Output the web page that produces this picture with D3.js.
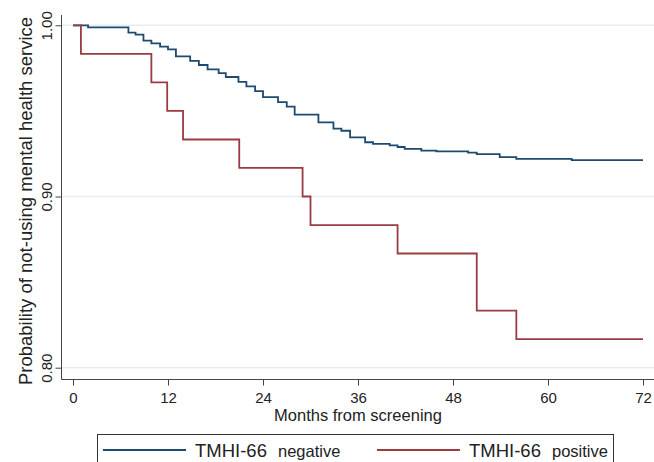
<!DOCTYPE html>
<html>
<head>
<meta charset="utf-8">
<script src="https://cdn.jsdelivr.net/npm/d3@7"></script>
<style>
  body { margin: 0; background: #fff; }
  svg { display: block; font-family: "Liberation Sans", Arial, sans-serif; }
</style>
</head>
<body>
<div id="chart"></div>
<script>
// Kaplan-Meier steps: months and survival after each step
const negMonths = [0, 1.9, 7.0, 7.9, 8.9, 9.9, 11.0, 12.0, 13.0, 14.8, 15.9, 17.0, 18.4, 19.3, 20.9, 21.9, 23.0, 24.0, 25.9, 27.0, 28.0, 31.0, 32.9, 33.9, 35.0, 36.9, 37.9, 40.0, 41.0, 41.9, 44.0, 45.9, 49.9, 51.0, 53.9, 56.0, 63.0, 72];
const negSurv = [1, 0.9988, 0.9957, 0.9945, 0.9910, 0.9895, 0.9875, 0.9859, 0.9818, 0.9792, 0.9768, 0.9742, 0.9721, 0.9698, 0.9669, 0.9643, 0.9616, 0.9581, 0.9551, 0.9525, 0.9478, 0.9433, 0.9397, 0.9384, 0.9345, 0.9317, 0.9307, 0.9299, 0.9289, 0.9278, 0.9268, 0.9263, 0.9256, 0.9247, 0.9230, 0.9220, 0.9213, 0.9213];

const posMonths = [0, 1.0, 9.9, 11.9, 13.9, 21.0, 29.0, 30.0, 41.0, 51.0, 56.0, 72];
const posSurv = [1, 0.9833, 0.9667, 0.95, 0.9333, 0.9167, 0.90, 0.8833, 0.8667, 0.8333, 0.8167, 0.8167];

const xTicks = [0, 12, 24, 36, 48, 60, 72];
const yTicks = [0.80, 0.90, 1.00];

const seriesNames = ["negative", "positive"];
const colors = ["#1f4a70", "#9b3b41"];

const W = 654, H = 462;

const svg = d3.select("#chart").append("svg")
  .attr("width", W)
  .attr("height", H);

const x = d3.scaleLinear([0, 72], [73, 643]);
const y = d3.scaleLinear([0.8, 1.0], [367.7, 25.3]);

// grid lines
svg.append("g")
  .selectAll("line")
  .data(yTicks)
  .join("line")
  .attr("x1", 62)
  .attr("x2", W)
  .attr("y1", d => y(d))
  .attr("y2", d => y(d))
  .attr("stroke", "#e6eef0")
  .attr("stroke-width", 1.5);

// y axis
const yAxis = svg.append("g")
  .attr("transform", "translate(61.5,0)")
  .call(d3.axisLeft(y).tickValues(yTicks).tickFormat(d3.format(".2f")).tickSize(6).tickSizeOuter(0));
yAxis.select(".domain").attr("d", "M0,15V379.5").attr("stroke", "#444");
yAxis.selectAll(".tick line").attr("stroke", "#444");
yAxis.selectAll(".tick text")
  .attr("transform", "rotate(-90)")
  .attr("x", 0)
  .attr("y", -10)
  .attr("dy", 0)
  .attr("text-anchor", "middle")
  .attr("font-size", 15)
  .attr("font-family", "Liberation Sans, Arial, sans-serif")
  .attr("fill", "#222");

// x axis
const xAxis = svg.append("g")
  .attr("transform", "translate(0,379.5)")
  .call(d3.axisBottom(x).tickValues(xTicks).tickSize(6).tickSizeOuter(0));
xAxis.select(".domain").attr("d", "M61.5,0H" + W).attr("stroke", "#444");
xAxis.selectAll(".tick line").attr("stroke", "#444");
xAxis.selectAll(".tick text")
  .attr("y", 13)
  .attr("dy", "0.71em")
  .attr("font-size", 15)
  .attr("font-family", "Liberation Sans, Arial, sans-serif")
  .attr("fill", "#222");

// axis titles
svg.append("text")
  .attr("x", 358)
  .attr("y", 421)
  .attr("text-anchor", "middle")
  .attr("font-size", 16.5)
  .attr("fill", "#222")
  .text("Months from screening");

svg.append("text")
  .attr("transform", "translate(32,201) rotate(-90)")
  .attr("text-anchor", "middle")
  .attr("font-size", 18.5)
  .attr("fill", "#222")
  .text("Probability of not-using mental health service");

// step curves
const line = d3.line()
  .x(d => x(d[0]))
  .y(d => y(d[1]))
  .curve(d3.curveStepAfter);

const series = [
  d3.zip(negMonths, negSurv),
  d3.zip(posMonths, posSurv)
];

svg.append("g")
  .selectAll("path")
  .data(series)
  .join("path")
  .attr("d", line)
  .attr("fill", "none")
  .attr("stroke", (d, i) => colors[i])
  .attr("stroke-width", 1.8);

// legend
const legend = svg.append("g");

legend.append("rect")
  .attr("x", 97.5)
  .attr("y", 434.5)
  .attr("width", 516)
  .attr("height", 40)
  .attr("fill", "#fff")
  .attr("stroke", "#333")
  .attr("stroke-width", 1);

const legX = [103, 377];
seriesNames.forEach((name, i) => {
  const lx = legX[i];
  legend.append("line")
    .attr("x1", lx)
    .attr("x2", lx + 83)
    .attr("y1", 450)
    .attr("y2", 450)
    .attr("stroke", colors[i])
    .attr("stroke-width", 1.8);
  legend.append("text")
    .attr("x", lx + 92)
    .attr("y", 457)
    .attr("font-size", 18.5)
    .attr("fill", "#222")
    .text("TMHI-66");
  legend.append("text")
    .attr("x", lx + 175)
    .attr("y", 457)
    .attr("font-size", 16.5)
    .attr("fill", "#222")
    .text(name);
});
</script>
</body>
</html>
